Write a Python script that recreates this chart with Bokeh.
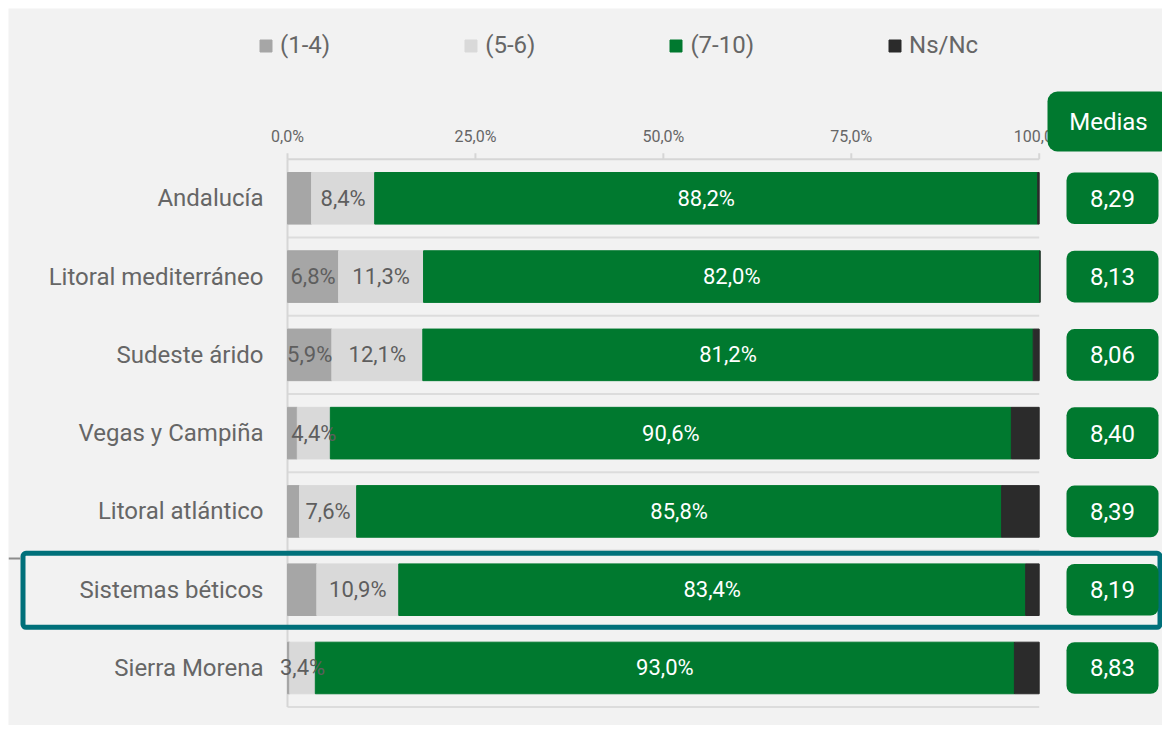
from bokeh.plotting import figure
from bokeh.models import ColumnDataSource, Range1d
from bokeh.embed import file_html
from bokeh.resources import INLINE
from bokeh.core.properties import value

# ---------------- data ----------------
categories = ["Andalucía", "Litoral mediterráneo", "Sudeste árido", "Vegas y Campiña",
              "Litoral atlántico", "Sistemas béticos", "Sierra Morena"]
s_1_4 = [3.2, 6.8, 5.9, 1.3, 1.6, 3.9, 0.3]
s_5_6 = [8.4, 11.3, 12.1, 4.4, 7.6, 10.9, 3.4]
s_7_10 = [88.2, 82.0, 81.2, 90.6, 85.8, 83.4, 93.0]
s_nsnc = [0.2, 0.0, 0.8, 3.7, 5.0, 1.8, 3.3]
medias = [8.29, 8.13, 8.06, 8.40, 8.39, 8.19, 8.83]
series_names = ["(1-4)", "(5-6)", "(7-10)", "Ns/Nc"]
x_ticks = [0, 25, 50, 75, 100]
highlight = "Sistemas béticos"
medias_title = "Medias"

# ---------------- styles ----------------
colors = ["#a6a6a6", "#d9d9d9", "#00792f", "#2b2b2b"]
GREEN = "#00792f"
TEAL = "#00707a"
GRAY_TXT = "#666666"
BG = "#f2f2f2"
FONT = value("Roboto")

W, H = 1162, 725
M = 8                        # white strip at top / left
FW, FH = W - M, H - M        # frame size
X0, PXP = 279.0, 7.517       # frame px of 0 %, px per %
Y0, PXR = 189.8, 78.28       # frame px of first row centre, px per row


def xu(px):
    return (px - X0) / PXP


def yu(px):
    return (px - Y0) / PXR


BAR_H = 51.6 / PXR


def fmt(v, d=1):
    return f"{v:.{d}f}".replace(".", ",")


p = figure(width=W, height=H, x_range=Range1d(xu(0), xu(FW)), y_range=Range1d(yu(FH), yu(0)),
           output_backend="svg", toolbar_location=None,
           min_border_left=M, min_border_top=M, min_border_right=0, min_border_bottom=0,
           background_fill_color=BG, border_fill_color="white", outline_line_color=None,
           x_axis_location=None, y_axis_location=None)
p.xgrid.visible = False
p.ygrid.visible = False

n = len(categories)
rows = list(range(n))

# separators / axis lines
p.segment(x0=[0] * n, x1=[100] * n, y0=[r + 0.5 for r in rows], y1=[r + 0.5 for r in rows],
          line_color="#dcdcdc", line_width=2)
p.segment(x0=[0], x1=[100], y0=[-0.5], y1=[-0.5], line_color="#d6d6d6", line_width=2)
p.segment(x0=[0], x1=[0], y0=[-0.5], y1=[n - 0.5], line_color="#d6d6d6", line_width=2)
axis_px = Y0 - 0.5 * PXR
p.segment(x0=x_ticks, x1=x_ticks, y0=[-0.5] * len(x_ticks), y1=[yu(axis_px - 6)] * len(x_ticks),
          line_color="#d6d6d6", line_width=2)

# stacked bars
src = ColumnDataSource(dict(y=rows, c14=s_1_4, c56=s_5_6, c710=s_7_10, nsnc=s_nsnc, cat=categories))
p.hbar_stack(["c14", "c56", "c710", "nsnc"], y="y", height=BAR_H, color=colors,
             source=src, legend_label=series_names)

# category labels
p.text(x=0, y="y", text="cat", source=src, x_offset=-24, text_align="right",
       text_baseline="middle", text_font=FONT, text_font_size="24px", text_color=GRAY_TXT)

# segment labels
gx, gy, gt, wx, wy, wt = [], [], [], [], [], []
for i in rows:
    a, b, c = s_1_4[i], s_5_6[i], s_7_10[i]
    if a >= 5:
        gx.append(a / 2); gy.append(i); gt.append(fmt(a) + "%")
    gx.append(a + b / 2); gy.append(i); gt.append(fmt(b) + "%")
    wx.append(a + b + c / 2); wy.append(i); wt.append(fmt(c) + "%")
p.text(x=gx, y=gy, text=gt, text_align="center", text_baseline="middle", text_font=FONT,
       text_font_size="22px", text_color="#5e5e5e")
p.text(x=wx, y=wy, text=wt, text_align="center", text_baseline="middle", text_font=FONT,
       text_font_size="22px", text_color="white")

# tick labels
p.text(x=x_ticks, y=[yu(128)] * len(x_ticks), text=[fmt(t) + "%" for t in x_ticks],
       text_align="center", text_baseline="middle", text_font=FONT, text_font_size="16px",
       text_color=GRAY_TXT)

# highlight box
hi = categories.index(highlight)
p.quad(left=[xu(14.5)], right=[xu(FW - 2.5)], top=[hi - 0.465], bottom=[hi + 0.48],
       fill_color=None, line_color=TEAL, line_width=5, border_radius=3)
p.segment(x0=[xu(0)], x1=[xu(12)], y0=[yu(550)], y1=[yu(550)], line_color="#8c8c8c", line_width=2)

# Medias column
p.quad(left=[xu(1039)], right=[xu(1161)], top=[yu(83)], bottom=[yu(143)],
       fill_color=GREEN, line_color=None, border_radius=10)
p.text(x=[xu(1100)], y=[yu(113)], text=[medias_title], text_align="center", text_baseline="middle",
       text_font=FONT, text_font_size="24px", text_color="white")
p.quad(left=[xu(1058)] * n, right=[xu(1150)] * n, top=[r - BAR_H / 2 for r in rows],
       bottom=[r + BAR_H / 2 for r in rows], fill_color=GREEN, line_color=None, border_radius=8)
p.text(x=[xu(1104)] * n, y=rows, text=[fmt(m, 2) for m in medias], text_align="center",
       text_baseline="middle", text_font=FONT, text_font_size="24px", text_color="white")

# legend
leg = p.legend[0]
leg.orientation = "horizontal"
leg.location = (250, 666)
leg.glyph_width = 15
leg.glyph_height = 15
leg.label_standoff = 7
leg.spacing = 133
leg.padding = 0
leg.margin = 0
leg.border_line_color = None
leg.background_fill_alpha = 0
leg.label_text_font = "Roboto"
leg.label_text_font_size = "24px"
leg.label_text_color = GRAY_TXT

open("out.html", "w").write(file_html(p, INLINE))
